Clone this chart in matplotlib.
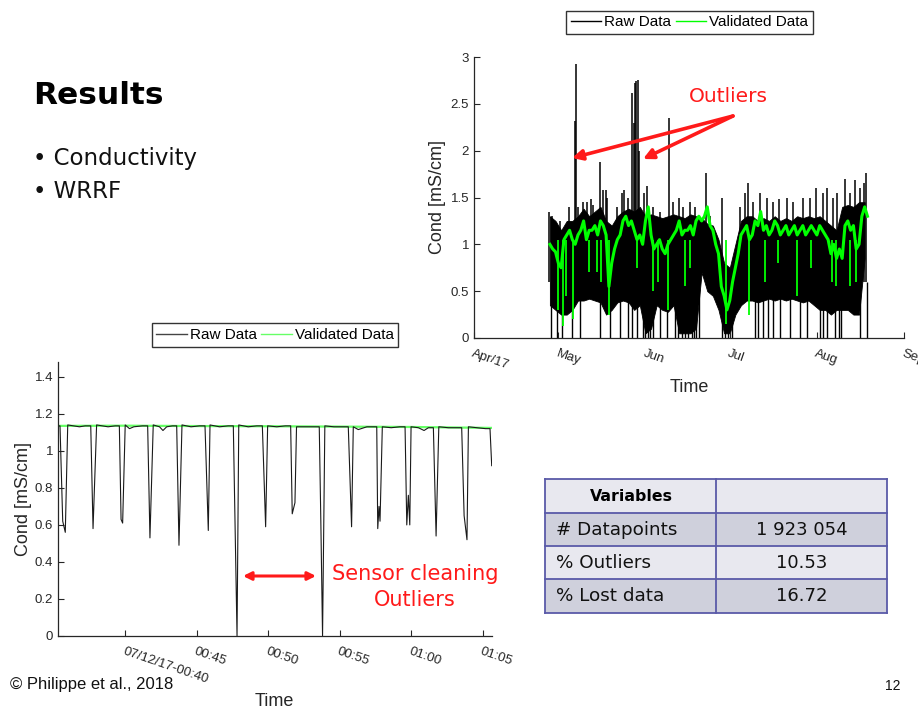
import numpy as np
import matplotlib
matplotlib.use("Agg")
import matplotlib.pyplot as plt
from matplotlib.patches import Rectangle, FancyArrowPatch
from matplotlib.lines import Line2D

W, H = 918, 711

# --- top chart: conductivity Apr-Sep 2017 (days since Apr 1) ---
month_ticks = [0, 30, 61, 91, 122, 153]
month_labels = ["Apr/17", "May", "Jun", "Jul", "Aug", "Sep"]

band_days = [27, 29, 31, 33, 35, 37, 39, 41, 43, 45, 47, 49, 51, 53, 55, 57, 59, 61, 63,
             65, 67, 69, 71, 73, 75, 77, 79, 81, 83, 85, 87, 89, 91, 93, 95, 97, 99, 101,
             103, 105, 107, 109, 111, 113, 115, 117, 119, 121, 123, 125, 127, 129, 131,
             133, 135, 137, 139]
band_hi = [1.30, 1.25, 1.15, 1.25, 1.25, 1.30, 1.38, 1.30, 1.35, 1.40, 1.25, 1.20, 1.30,
           1.35, 1.38, 1.35, 1.40, 1.30, 1.32, 1.30, 1.28, 1.30, 1.32, 1.30, 1.28, 1.32,
           1.30, 1.28, 1.22, 1.20, 1.05, 0.80, 0.75, 1.00, 1.25, 1.30, 1.30, 1.25, 1.28,
           1.25, 1.30, 1.25, 1.28, 1.25, 1.30, 1.28, 1.30, 1.28, 1.30, 1.25, 1.20, 1.15,
           1.40, 1.42, 1.40, 1.45, 1.45]
band_lo = [0.35, 0.30, 0.25, 0.25, 0.30, 0.40, 0.40, 0.42, 0.40, 0.38, 0.25, 0.30, 0.38,
           0.40, 0.38, 0.30, 0.35, 0.05, 0.10, 0.35, 0.30, 0.28, 0.35, 0.05, 0.05, 0.05,
           0.10, 0.70, 0.50, 0.45, 0.30, 0.05, 0.05, 0.25, 0.35, 0.40, 0.40, 0.38, 0.40,
           0.42, 0.40, 0.42, 0.40, 0.42, 0.40, 0.38, 0.40, 0.35, 0.30, 0.30, 0.25, 0.30,
           0.30, 0.30, 0.25, 0.25, 0.85]

# outlier spikes above the dense band
spike_days = [26.8, 27.6, 30.6, 33.9, 35.9, 36.2, 37.1, 38.7, 40.1, 41.5, 42.5, 44.8,
              45.8, 46.9, 47.2, 50.8, 52.6, 53.4, 54.9, 56.3, 56.8, 57.3, 57.8, 58.2,
              58.6, 60.5, 61.7, 63.8, 66.2, 69.5, 70.9, 73.1, 74.5, 76.9, 78.6, 82.4,
              84.0, 88.1, 94.7, 96.4, 97.6, 99.4, 101.8, 104.2, 106.5, 108.7, 111.3,
              113.6, 117.2, 119.6, 121.7, 124.3, 125.7, 127.9, 129.1, 132.0, 133.8,
              135.6, 137.4, 138.6, 139.5]
spike_tops = [1.34, 1.30, 1.25, 1.40, 2.32, 2.92, 1.40, 1.45, 1.45, 1.48, 1.42, 1.88,
              1.58, 1.58, 1.50, 1.40, 1.55, 1.58, 1.50, 2.62, 2.30, 2.72, 2.74, 2.75,
              2.00, 1.55, 1.62, 1.40, 1.35, 2.35, 1.45, 1.50, 1.40, 1.45, 1.40, 1.76,
              1.30, 1.50, 1.40, 1.55, 1.66, 1.45, 1.55, 1.50, 1.45, 1.48, 1.50, 1.45,
              1.50, 1.50, 1.60, 1.55, 1.60, 1.50, 1.55, 1.70, 1.55, 1.69, 1.60, 1.65,
              1.76]

# raw readings dropping to zero
drop_days = [27.4, 29.4, 31.2, 34.8, 37.7, 44.8, 48.4, 52.0, 54.9, 56.1, 57.9, 60.0,
             60.9, 61.8, 62.6, 63.8, 66.2, 68.6, 71.5, 72.7, 73.9, 75.1, 76.3, 77.5,
             78.3, 79.1, 80.0, 88.1, 89.3, 90.5, 91.7, 100.0, 101.2, 103.0, 104.7,
             106.5, 108.9, 112.5, 116.0, 118.4, 123.1, 124.3, 125.5, 128.5, 129.7,
             130.5, 137.4, 139.7]

# validated series, daily level from day 27 (Apr 28) to day 140
valid_vals = [1.00, 0.95, 0.92, 0.80, 0.75, 1.05, 1.10, 1.15, 1.05, 1.00,   # 27-36
              1.10, 1.15, 1.25, 1.05, 1.15, 1.15, 1.20, 1.10, 1.25, 1.20,   # 37-46
              1.10, 0.55, 0.80, 0.95, 1.05, 1.10, 1.25, 1.30, 1.20, 1.25,   # 47-56
              1.15, 1.05, 1.10, 1.00, 1.25, 1.40, 1.10, 0.95, 1.00, 1.05,   # 57-66
              0.95, 0.90, 1.00, 1.05, 1.10, 1.15, 1.25, 1.10, 1.15, 1.15,   # 67-76
              1.20, 1.10, 1.25, 1.30, 1.25, 1.30, 1.40, 1.20, 1.15, 1.00,   # 77-86
              0.90, 0.55, 0.45, 0.30, 0.40, 0.60, 0.75, 0.90, 1.10, 1.15,   # 87-96
              1.20, 1.05, 1.10, 1.25, 1.20, 1.35, 1.15, 1.20, 1.10, 1.15,   # 97-106
              1.25, 1.20, 1.10, 1.15, 1.20, 1.10, 1.15, 1.20, 1.10, 1.15,   # 107-116
              1.20, 1.10, 1.15, 1.20, 1.15, 1.10, 1.20, 1.15, 1.10, 1.05,   # 117-126
              0.90, 1.00, 0.85, 0.95, 0.85, 1.20, 1.25, 1.15, 1.20, 0.95,   # 127-136
              1.00, 1.30, 1.40, 1.30]                                       # 137-140
valid_days = np.arange(27, 27 + len(valid_vals))

# short downward excursions kept in the validated series
vdip_days = [29.8, 31.5, 32.6, 35.2, 40.8, 43.7, 45.3, 48.0, 57.9, 63.8, 65.5, 69.0,
             75.2, 77.0, 89.8, 97.9, 103.5, 108.0, 114.8, 120.0, 127.5, 128.8, 133.9,
             135.8]
vdip_lows = [0.30, 0.13, 0.45, 0.20, 0.70, 0.70, 0.60, 0.25, 0.75, 0.50, 0.60, 0.30,
             0.55, 0.75, 0.15, 0.25, 0.60, 0.80, 0.45, 0.75, 0.60, 0.55, 0.55, 0.60]

# --- bottom chart: zoom on 07/12/17 00:35-01:05 (minutes after midnight) ---
minute_ticks = [40, 45, 50, 55, 60, 65]
minute_labels = ["07/12/17-00:40", "00:45", "00:50", "00:55", "01:00", "01:05"]

raw_t = [35.30, 35.44, 35.63, 35.81, 35.98, 36.8, 37.2, 37.59, 37.75, 38.0, 38.8, 39.3,
         39.59, 39.71, 39.82, 40.0, 40.3, 40.6, 41.2, 41.57, 41.73, 41.96, 42.4, 42.64,
         42.9, 43.3, 43.6, 43.76, 43.97, 44.6, 45.2, 45.58, 45.81, 45.93, 46.6, 47.2,
         47.56, 47.82, 47.94, 48.6, 49.2, 49.59, 49.82, 49.96, 50.6, 51.2, 51.57, 51.68,
         51.87, 51.98, 52.6, 53.2, 53.57, 53.68, 53.80, 53.96, 54.6, 55.2, 55.6, 55.83,
         55.95, 56.3, 56.9, 57.3, 57.59, 57.66, 57.75, 57.82, 57.98, 58.6, 59.2, 59.57,
         59.69, 59.80, 59.90, 59.99, 60.5, 60.9, 61.2, 61.55, 61.74, 61.93, 62.6, 63.2,
         63.53, 63.70, 63.90, 64.0, 64.6, 65.2, 65.51, 65.63]
raw_v = [1.135, 1.135, 0.62, 0.56, 1.14, 1.13, 1.135, 1.135, 0.58, 1.14, 1.13, 1.135,
         1.135, 0.63, 0.61, 1.14, 1.12, 1.13, 1.135, 1.135, 0.53, 1.14, 1.13, 1.11,
         1.13, 1.135, 1.135, 0.49, 1.14, 1.13, 1.135, 1.135, 0.57, 1.14, 1.13, 1.135,
         1.135, 0.0, 1.14, 1.13, 1.135, 1.135, 0.59, 1.135, 1.13, 1.135, 1.135, 0.66,
         0.72, 1.13, 1.13, 1.13, 1.13, 0.62, 0.0, 1.135, 1.13, 1.13, 1.13, 0.59,
         1.13, 1.115, 1.13, 1.13, 1.13, 0.58, 0.70, 0.62, 1.13, 1.125, 1.13, 1.13,
         0.60, 0.76, 0.60, 1.13, 1.125, 1.11, 1.125, 1.125, 0.54, 1.13, 1.125, 1.125,
         1.125, 0.65, 0.52, 1.13, 1.125, 1.12, 1.12, 0.92]
valid_t = [35.3, 40.0, 45.0, 50.0, 55.0, 60.0, 65.6]
valid_v = [1.135, 1.136, 1.134, 1.133, 1.131, 1.129, 1.124]

# --- summary table ---
table_rows = ["Variables", "# Datapoints", "% Outliers", "% Lost data"]
table_vals = ["", "1 923 054", "10.53", "16.72"]

CHART_FONT = "Liberation Sans"
SLIDE_FONT = "DejaVu Sans"
RED = "#ff1a1a"


def fx(x):
    return x / W


def fy(y):
    return 1 - y / H


def px_axes(left, top, right, bottom):
    return [fx(left), fy(bottom), (right - left) / W, (bottom - top) / H]


def style_axes(ax):
    ax.spines["top"].set_visible(False)
    ax.spines["right"].set_visible(False)
    for s in ("left", "bottom"):
        ax.spines[s].set_color("#262626")
        ax.spines[s].set_linewidth(0.9)
    ax.tick_params(direction="in", length=4, width=0.8, colors="#262626",
                   labelsize=9.5, labelcolor="#262626")
    for lab in ax.get_yticklabels() + ax.get_xticklabels():
        lab.set_fontfamily(CHART_FONT)


def slant_xlabels(ax):
    for lab in ax.get_xticklabels():
        lab.set_rotation(-19)
        lab.set_ha("left")
        lab.set_va("top")
        lab.set_rotation_mode("anchor")


def add_legend(ax, raw_color, valid_color, cx, cy):
    handles = [Line2D([], [], color=raw_color, lw=1.0),
               Line2D([], [], color=valid_color, lw=1.0)]
    ax.legend(handles, ["Raw Data", "Validated Data"], loc="center",
              bbox_to_anchor=(fx(cx), fy(cy)), bbox_transform=fig.transFigure, ncol=2,
              fancybox=False, edgecolor="#333333", framealpha=1, handlelength=2.0,
              handletextpad=0.2, columnspacing=0.3, borderpad=0.3,
              prop={"family": CHART_FONT, "size": 11})


fig = plt.figure(figsize=(W / 100, H / 100), dpi=100)

# top chart
ax1 = fig.add_axes(px_axes(474, 57, 904, 338))
ax1.fill_between(band_days, band_lo, band_hi, color="black", lw=0.6)
ax1.vlines(spike_days, 0.6, spike_tops, color="black", lw=1.1)
ax1.vlines(drop_days, 0, 0.6, color="black", lw=1.0)
ax1.vlines(vdip_days, vdip_lows, 1.05, color="#00ff00", lw=1.3)
ax1.plot(valid_days, valid_vals, color="#00ff00", lw=2.2)
ax1.set_xlim(0, 153)
ax1.set_ylim(0, 3)
ax1.set_xticks(month_ticks)
ax1.set_xticklabels(month_labels)
ax1.set_yticks([0, 0.5, 1, 1.5, 2, 2.5, 3])
ax1.set_yticklabels(["0", "0.5", "1", "1.5", "2", "2.5", "3"])
style_axes(ax1)
slant_xlabels(ax1)
ax1.tick_params(axis="x", pad=7)
ax1.set_ylabel("Cond [mS/cm]", fontsize=13, family=CHART_FONT, color="#262626", labelpad=3)
ax1.set_xlabel("Time", fontsize=13, family=CHART_FONT, color="#262626")
ax1.xaxis.set_label_coords(0.5, (338 - 387) / 281)
ax1.xaxis.label.set_va("center")
add_legend(ax1, "black", "#00ff00", 689.5, 22.5)

fig.text(fx(728), fy(96), "Outliers", color=RED, fontsize=14.5,
         family=SLIDE_FONT, ha="center", va="center")
for head in [(572, 158), (643, 159)]:
    fig.add_artist(FancyArrowPatch(
        (fx(733), fy(116)), (fx(head[0]), fy(head[1])), transform=fig.transFigure,
        arrowstyle="-|>", mutation_scale=15, color=RED, lw=2.6,
        shrinkA=0, shrinkB=0))

# bottom chart
ax2 = fig.add_axes(px_axes(58, 362, 492, 636))
ax2.plot(valid_t, valid_v, color="#66ff66", lw=1.6)
ax2.plot(raw_t, raw_v, color="#1a1a1a", lw=0.8)
ax2.set_xlim(35.3, 65.65)
ax2.set_ylim(0, 1.48)
ax2.set_xticks(minute_ticks)
ax2.set_xticklabels(minute_labels)
ax2.set_yticks([0, 0.2, 0.4, 0.6, 0.8, 1.0, 1.2, 1.4])
ax2.set_yticklabels(["0", "0.2", "0.4", "0.6", "0.8", "1", "1.2", "1.4"])
style_axes(ax2)
slant_xlabels(ax2)
ax2.tick_params(axis="x", pad=7)
ax2.set_ylabel("Cond [mS/cm]", fontsize=13, family=CHART_FONT, color="#262626", labelpad=2)
ax2.set_xlabel("Time", fontsize=13, family=CHART_FONT, color="#262626")
ax2.xaxis.set_label_coords((274 - 58) / 434, (636 - 701) / 274)
ax2.xaxis.label.set_va("center")
add_legend(ax2, "#444444", "#66ff66", 275, 335)

fig.add_artist(FancyArrowPatch(
    (fx(243), fy(576)), (fx(316), fy(576)), transform=fig.transFigure,
    arrowstyle="<|-|>", mutation_scale=12, color=RED, lw=2.2,
    shrinkA=0, shrinkB=0))
fig.text(fx(415), fy(574), "Sensor cleaning", color=RED, fontsize=15,
         family=SLIDE_FONT, ha="center", va="center")
fig.text(fx(415), fy(600), "Outliers", color=RED, fontsize=15,
         family=SLIDE_FONT, ha="center", va="center")

# slide text
fig.text(fx(33), fy(96), "Results", fontsize=22.5, weight="bold", family=SLIDE_FONT,
         va="center", color="black")
fig.text(fx(33), fy(159), "\u2022 Conductivity", fontsize=16.5, family=SLIDE_FONT,
         va="center", color="#111111")
fig.text(fx(33), fy(192), "\u2022 WRRF", fontsize=16.5, family=SLIDE_FONT,
         va="center", color="#111111")
fig.text(fx(10), fy(684), "\u00a9 Philippe et al., 2018", fontsize=12,
         family=CHART_FONT, va="center", color="#111111")
fig.text(fx(900), fy(686), "12", fontsize=10, family=CHART_FONT, va="center",
         ha="right", color="#111111")

# table
axt = fig.add_axes(px_axes(545, 479, 887, 613))
axt.set_xlim(545, 887)
axt.set_ylim(613, 479)
axt.axis("off")
row_edges = [479, 513, 546, 579, 613]
fills = ["#e8e8ef", "#cfd0dc", "#e8e8ef", "#cfd0dc"]
for i, (name, val) in enumerate(zip(table_rows, table_vals)):
    top, bot = row_edges[i], row_edges[i + 1]
    axt.add_patch(Rectangle((545, top), 342, bot - top, facecolor=fills[i],
                            edgecolor="none"))
    ymid = (top + bot) / 2
    if i == 0:
        axt.text(631, ymid, name, ha="center", va="center", fontsize=11.3,
                 weight="bold", family=SLIDE_FONT)
    else:
        axt.text(556, ymid, name, ha="left", va="center", fontsize=13.2,
                 family=SLIDE_FONT, color="#111111")
        axt.text(802, ymid, val, ha="center", va="center", fontsize=13,
                 family=SLIDE_FONT, color="#111111")
for y in row_edges:
    axt.plot([545, 887], [y, y], color="#5a5aa8", lw=1.3, clip_on=False)
for x in [545, 716, 887]:
    axt.plot([x, x], [479, 613], color="#5a5aa8", lw=1.3, clip_on=False)

fig.savefig("out.png", dpi=100)
